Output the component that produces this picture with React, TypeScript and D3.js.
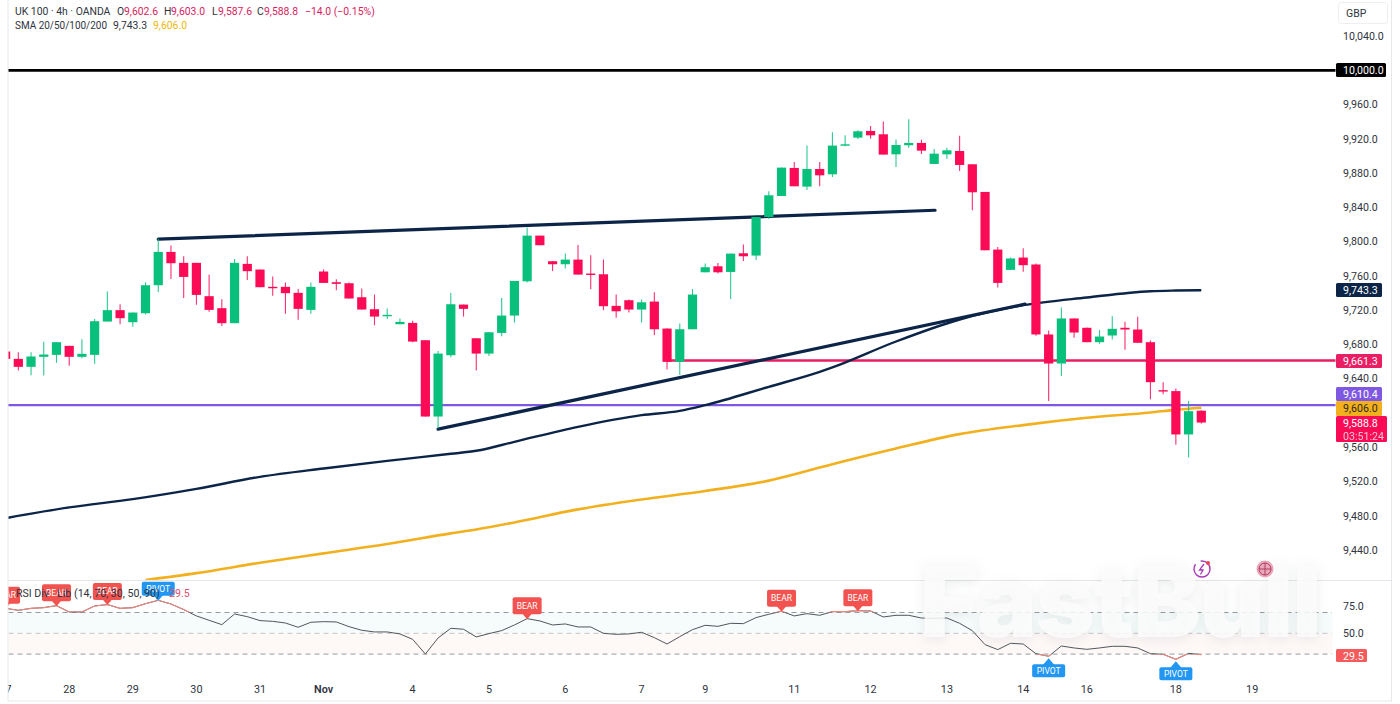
import React from 'react';
import * as d3 from 'd3';

// 4h candles
const opens = [9671.7, 9663.1, 9653.8, 9665.5, 9667.8, 9678.3, 9665.5, 9667.8, 9706.7, 9720.0, 9705.9, 9716.4, 9749.1, 9788.0, 9775.2, 9775.2, 9736.3, 9722.3, 9704.8, 9774.0, 9767.4, 9747.2, 9747.2, 9740.2, 9720.3, 9765.1, 9752.6, 9751.4, 9735.1, 9721.1, 9713.7, 9703.6, 9705.1, 9684.9, 9595.8, 9667.4, 9726.5, 9687.2, 9669.3, 9693.4, 9713.7, 9753.7, 9807.0, 9777.1, 9773.6, 9779.0, 9762.7, 9761.9, 9725.0, 9731.6, 9720.7, 9730.0, 9698.5, 9659.6, 9697.7, 9764.2, 9771.2, 9764.6, 9786.4, 9783.7, 9828.8, 9853.3, 9886.0, 9864.2, 9884.8, 9878.6, 9912.1, 9921.4, 9929.2, 9925.3, 9901.9, 9912.5, 9915.2, 9890.7, 9901.9, 9905.8, 9890.3, 9858.0, 9790.7, 9767.0, 9781.4, 9773.3, 9691.6, 9657.7, 9710.3, 9699.4, 9682.6, 9690.4, 9699.4, 9697.4, 9682.6, 9626.6, 9625.5, 9574.9, 9602.6];
const highs = [9672.5, 9670.9, 9670.9, 9683.0, 9682.6, 9678.3, 9686.1, 9709.8, 9741.7, 9727.0, 9717.2, 9752.6, 9803.6, 9795.4, 9783.0, 9775.2, 9761.2, 9732.8, 9779.8, 9783.0, 9767.4, 9759.2, 9752.2, 9744.8, 9752.2, 9767.4, 9756.1, 9752.2, 9745.2, 9738.2, 9721.8, 9710.2, 9707.5, 9684.9, 9672.4, 9740.1, 9726.5, 9687.2, 9694.2, 9734.3, 9754.1, 9816.4, 9807.0, 9777.5, 9786.0, 9796.1, 9784.1, 9779.0, 9738.2, 9732.3, 9732.3, 9740.9, 9698.9, 9704.3, 9744.8, 9774.4, 9775.1, 9786.0, 9796.5, 9828.8, 9858.8, 9886.4, 9893.0, 9912.1, 9893.0, 9927.6, 9924.1, 9930.0, 9935.0, 9940.1, 9919.1, 9942.8, 9919.1, 9908.2, 9909.7, 9923.7, 9890.3, 9858.0, 9793.8, 9781.4, 9792.3, 9774.4, 9696.2, 9723.1, 9710.3, 9699.8, 9697.0, 9713.0, 9706.4, 9712.2, 9684.6, 9635.9, 9628.6, 9613.8, 9603.0];
const lows = [9662.4, 9649.5, 9644.1, 9643.7, 9658.5, 9655.0, 9663.9, 9657.3, 9706.7, 9703.6, 9700.5, 9714.9, 9740.9, 9756.5, 9734.3, 9726.2, 9718.0, 9701.6, 9704.8, 9755.3, 9746.8, 9736.7, 9715.7, 9708.7, 9715.7, 9751.8, 9743.3, 9733.6, 9720.7, 9702.4, 9709.8, 9703.6, 9682.6, 9595.8, 9581.8, 9665.0, 9712.5, 9649.5, 9666.6, 9689.6, 9705.5, 9752.2, 9795.8, 9765.8, 9768.5, 9761.5, 9744.4, 9719.9, 9711.0, 9717.2, 9705.5, 9690.7, 9650.7, 9644.4, 9697.7, 9764.2, 9762.7, 9733.1, 9777.5, 9778.6, 9826.5, 9853.3, 9864.6, 9860.3, 9864.6, 9875.5, 9911.3, 9919.8, 9920.2, 9901.6, 9887.2, 9909.7, 9902.3, 9890.7, 9896.5, 9882.5, 9836.6, 9789.9, 9746.3, 9767.0, 9764.7, 9690.0, 9613.8, 9643.0, 9687.7, 9682.6, 9680.7, 9685.7, 9673.7, 9681.9, 9616.1, 9621.9, 9562.8, 9548.0, 9587.6];
const closes = [9663.1, 9653.8, 9665.9, 9668.2, 9682.6, 9665.5, 9669.0, 9707.1, 9720.0, 9710.6, 9717.2, 9749.1, 9788.0, 9774.8, 9758.8, 9737.8, 9720.3, 9704.8, 9775.2, 9765.5, 9746.8, 9746.0, 9739.8, 9721.5, 9747.2, 9751.8, 9750.7, 9733.6, 9720.7, 9712.5, 9714.5, 9706.3, 9683.3, 9595.8, 9669.3, 9726.9, 9721.5, 9669.3, 9694.2, 9713.7, 9754.1, 9807.0, 9795.8, 9773.6, 9779.0, 9761.5, 9761.5, 9724.6, 9718.7, 9720.7, 9729.2, 9697.7, 9659.6, 9697.7, 9738.2, 9770.1, 9764.2, 9786.0, 9782.9, 9828.8, 9854.1, 9886.4, 9864.6, 9884.8, 9877.4, 9912.1, 9913.6, 9928.8, 9924.1, 9901.6, 9912.8, 9915.2, 9906.2, 9902.7, 9906.6, 9889.5, 9857.6, 9789.9, 9751.8, 9780.3, 9772.5, 9691.6, 9657.7, 9710.3, 9693.9, 9682.6, 9689.2, 9698.2, 9697.4, 9681.9, 9635.9, 9625.1, 9574.9, 9602.1, 9588.8];

const sma100Bars = [0, 5, 10, 15, 20, 25, 30, 35, 37, 40, 45, 50, 53, 55, 60, 64, 65, 70, 75, 80, 85, 90, 92, 94];
const sma100 = [9477.2, 9489.7, 9499.4, 9511.4, 9525.4, 9535.2, 9544.1, 9552.3, 9555.8, 9566.3, 9583.8, 9597.4, 9602.4, 9609.1, 9630.5, 9647.9, 9653.1, 9683.4, 9709.1, 9725.8, 9734.8, 9742.1, 9742.9, 9743.3];
const sma200Bars = [11, 15, 20, 25, 30, 35, 37, 40, 45, 50, 55, 60, 64, 65, 70, 75, 80, 85, 90, 92, 94];
const sma200 = [9404.9, 9413.0, 9425.1, 9436.1, 9446.9, 9459.4, 9464.0, 9472.2, 9487.4, 9499.0, 9508.9, 9521.0, 9536.2, 9540.2, 9558.6, 9575.3, 9585.8, 9594.3, 9600.6, 9603.6, 9606.0];

const rsi = [74.0, 72.1, 74.0, 74.7, 76.6, 70.5, 70.5, 76.3, 77.6, 74.0, 74.7, 78.5, 81.7, 78.2, 72.8, 66.7, 62.5, 58.3, 68.6, 66.0, 62.2, 61.5, 59.9, 55.8, 60.6, 61.2, 60.9, 56.4, 52.9, 51.3, 51.3, 49.4, 44.2, 30.1, 45.5, 54.8, 53.9, 46.5, 49.7, 52.6, 58.0, 64.1, 61.9, 58.0, 59.0, 56.1, 56.1, 50.0, 49.0, 49.4, 51.0, 45.8, 39.7, 46.8, 53.5, 57.7, 56.7, 59.6, 59.3, 65.1, 68.3, 71.2, 66.7, 68.9, 67.3, 70.8, 70.8, 71.8, 71.5, 65.7, 67.3, 67.3, 64.7, 64.4, 64.7, 59.6, 52.5, 39.1, 34.3, 40.4, 39.7, 30.4, 27.9, 37.8, 35.9, 34.6, 35.9, 37.5, 37.5, 35.9, 30.4, 29.8, 25.0, 30.7, 29.5];
const bearBars = [0, 4, 8, 41, 61, 67];
const pivotTopBars = [12];
const pivotBottomBars = [82, 92];

const priceTicks = [10040, 9960, 9920, 9880, 9840, 9800, 9760, 9720, 9680, 9640, 9560, 9520, 9480, 9440];
const rsiTicks = [75, 50];
const dateBars = [0, 5, 10, 15, 20, 25, 32, 38, 44, 50, 55, 62, 68, 74, 80, 85, 92, 98];
const dateLabels = ['27', '28', '29', '30', '31', 'Nov', '4', '5', '6', '7', '9', '11', '12', '13', '14', '16', '18', '19'];

const upperTrend = [[12, 9802.8], [73.07, 9836.6]];
const lowerTrend = [[34, 9581.1], [80.14, 9727.0]];

const UP = '#08c07c';
const DOWN = '#fb0b55';
const NAVY = '#0b2447';
const GOLD = '#f2b01e';
const PURPLE = '#7e57e2';
const PINK = '#e91e63';
const TEXT = '#2f3440';
const FONT = 'Roboto, sans-serif';

const x = d3.scaleLinear().domain([0, 94]).range([5.6, 1201.3]);
const y = d3.scaleLinear().domain([10000, 9440]).range([70.3, 550]);
const yRsi = d3.scaleLinear().domain([70, 30]).range([612.5, 654.1]);
const fmt = d3.format(',.1f');

function smaPath(bars: number[], vals: number[]) {
    return d3.line<number>()
        .x(d => x(d))
        .y((_, i) => y(vals[i]))
        .curve(d3.curveMonotoneX)(bars);
}

function trendPath(pts: number[][]) {
    return d3.line<number[]>().x(d => x(d[0])).y(d => y(d[1]))(pts);
}

const rsiPath = d3.line<number>().x((_, i) => x(i)).y(d => yRsi(d))(rsi);

const Flag: React.FC<{ bar: number; label: string; color: string; below?: boolean; w: number; h: number }> = ({ bar, label, color, below, w, h }) => {
    const cx = x(bar);
    const tip = yRsi(rsi[bar]) + (below ? 2 : 0.5);
    const dir = below ? 1 : -1;
    const rectY = below ? tip + 6 : tip - 5 - h;
    return (
        <g>
            <path d={`M${cx - 6},${tip + dir * 7} L${cx},${tip} L${cx + 6},${tip + dir * 7} Z`} fill={color} />
            <rect x={cx - w / 2} y={rectY} width={w} height={h} rx={2} fill={color} />
            <text x={cx} y={rectY + h / 2 + 2.9} textAnchor="middle" fontSize={8.5} fill="#fff" fontFamily={FONT}>{label}</text>
        </g>
    );
};

const PriceTag: React.FC<{ top: number; h?: number; w?: number; color: string; lines: string[]; fg?: string }> = ({ top, h = 14, w = 46, color, lines, fg = '#fff' }) => (
    <g>
        <rect x={1336} y={top} width={w} height={h} rx={1.5} fill={color} />
        {lines.map((t, i) => (
            <text key={t} x={1343} y={top + 10.8 + i * 13} fontSize={10.6} fill={fg} fontFamily={FONT} opacity={i ? 0.75 : 1}>{t}</text>
        ))}
    </g>
);

export default function App() {
    return (
        <svg width={1400} height={704} viewBox="0 0 1400 704" style={{ position: 'absolute', left: 0, top: 0, background: '#fff' }}>
            <defs>
                <clipPath id="plot"><rect x={8.5} y={0} width={1327} height={580} /></clipPath>
                <clipPath id="pane"><rect x={8.5} y={581} width={1327} height={100} /></clipPath>
                <clipPath id="axis"><rect x={8.5} y={680} width={1327} height={20} /></clipPath>
                <clipPath id="rsiExtreme">
                    <rect x={0} y={560} width={1340} height={yRsi(70) - 560} />
                    <rect x={0} y={yRsi(30)} width={1340} height={30} />
                </clipPath>
                <filter id="wm" x="-10%" y="-30%" width="120%" height="160%">
                    <feDropShadow dx={0} dy={3} stdDeviation={6} floodColor="#9aa0a6" floodOpacity={0.22} />
                </filter>
            </defs>

            {/* frame */}
            <line x1={8} x2={8} y1={0} y2={701} stroke="#e6e8eb" />
            <line x1={1391.5} x2={1391.5} y1={0} y2={701} stroke="#e6e8eb" />
            <line x1={8} x2={1392} y1={701} y2={701} stroke="#e6e8eb" />
            <line x1={8} x2={1392} y1={580.5} y2={580.5} stroke="#e4e6e9" />

            {/* price pane */}
            <g clipPath="url(#plot)">
                <line x1={8} x2={1336} y1={y(10000)} y2={y(10000)} stroke="#000" strokeWidth={2.8} />
                <line x1={x(52)} x2={1336} y1={y(9661.3)} y2={y(9661.3)} stroke={PINK} strokeWidth={2.4} />
                <line x1={8} x2={1336} y1={y(9609.2)} y2={y(9609.2)} stroke={PURPLE} strokeWidth={2.2} />
                <path d={smaPath(sma200Bars, sma200) || ''} fill="none" stroke={GOLD} strokeWidth={2.6} />
                <path d={smaPath(sma100Bars, sma100) || ''} fill="none" stroke={NAVY} strokeWidth={2.4} />
                <path d={trendPath(upperTrend) || ''} fill="none" stroke={NAVY} strokeWidth={3.2} strokeLinecap="round" />
                <path d={trendPath(lowerTrend) || ''} fill="none" stroke={NAVY} strokeWidth={3.2} strokeLinecap="round" />
                {opens.map((o, i) => {
                    const c = closes[i];
                    const col = c >= o ? UP : DOWN;
                    const top = y(Math.max(o, c));
                    const bot = y(Math.min(o, c));
                    return (
                        <g key={i}>
                            <line x1={x(i)} x2={x(i)} y1={y(highs[i])} y2={y(lows[i])} stroke={col} strokeWidth={1.1} opacity={0.85} />
                            <rect x={x(i) - 4.6} y={top} width={9.2} height={Math.max(bot - top, 1.4)} fill={col} />
                        </g>
                    );
                })}
            </g>

            {/* rsi pane */}
            <g clipPath="url(#pane)">
                <rect x={8.5} y={yRsi(70)} width={1324} height={yRsi(50) - yRsi(70)} fill="#f5fcfb" />
                <rect x={8.5} y={yRsi(50)} width={1324} height={yRsi(30) - yRsi(50)} fill="#fef8f7" />
                {[70, 50, 30].map(v => (
                    <line key={v} x1={8.5} x2={1332} y1={yRsi(v)} y2={yRsi(v)} stroke="#8a8f96" strokeWidth={1} strokeDasharray="5 4" opacity={v === 50 ? 0.5 : 0.9} />
                ))}
                <path d={rsiPath || ''} fill="none" stroke="#50565c" strokeWidth={1} />
                <g clipPath="url(#rsiExtreme)">
                    <path d={rsiPath || ''} fill="none" stroke="#ec8a80" strokeWidth={1.1} />
                </g>
                {bearBars.map(b => <Flag key={b} bar={b} label="BEAR" color="#f25350" w={29} h={17} />)}
                {pivotTopBars.map(b => <Flag key={b} bar={b} label="PIVOT" color="#2196f3" w={33} h={14} />)}
                {pivotBottomBars.map(b => <Flag key={b} bar={b} label="PIVOT" color="#2196f3" below w={33} h={13} />)}
            </g>
            <g fontSize={10.6} fill={TEXT} fontFamily={FONT}>
                <text x={16} y={597}>RSI Div</text>
                <text x={57} y={597}>Lib</text>
                <text x={74} y={597}>(14, 70, 30, 50, 90)</text>
                <text x={169} y={597} fill="#e0506a">29.5</text>
            </g>

            {/* watermark and news icons */}
            <text x={920} y={637} fontSize={101} fontWeight={900} fontFamily='Inter, "Noto Sans", sans-serif' fill="#fbfbfb" fillOpacity={0.85} filter="url(#wm)" textLength={402} lengthAdjust="spacing">FastBull</text>
            <g fill="none">
                <circle cx={1202} cy={569} r={8} stroke="#a73bb5" strokeWidth={1.4} strokeDasharray="30 6" />
                <path d="M1204,564 L1199.5,570 L1203,570 L1200.5,574.5" stroke="#a73bb5" strokeWidth={1.3} />
                <circle cx={1208} cy={563} r={2} fill="#ef4056" />
                <circle cx={1265} cy={569} r={8.5} fill="#e9a8ba" />
                <circle cx={1265} cy={569} r={6} stroke="#b33a62" strokeWidth={1} />
                <path d="M1259,569 H1271 M1265,563 V575" stroke="#b33a62" strokeWidth={1} />
            </g>

            {/* price axis */}
            {priceTicks.map(t => (
                <text key={t} x={1343} y={y(t) + 3.8} fontSize={10.6} fill={TEXT} fontFamily={FONT}>{fmt(t)}</text>
            ))}
            {rsiTicks.map((t, i) => (
                <text key={t} x={1343} y={i === 0 ? 610 : 637} fontSize={10.6} fill={TEXT} fontFamily={FONT}>{fmt(t)}</text>
            ))}
            <rect x={1338.5} y={2.5} width={49} height={21} rx={3} fill="#fff" stroke="#eceef0" />
            <text x={1346} y={17} fontSize={10.5} fill={TEXT} fontFamily={FONT}>GBP</text>

            <PriceTag top={63} w={50} color="#000" lines={['10,000.0']} />
            <PriceTag top={283} color={NAVY} lines={[fmt(sma100[sma100.length - 1])]} />
            <PriceTag top={354} color={PINK} lines={['9,661.3']} />
            <PriceTag top={387} color={PURPLE} lines={['9,610.4']} />
            <PriceTag top={401} h={15} color={GOLD} lines={[fmt(sma200[sma200.length - 1])]} fg="#2f2a1a" />
            <PriceTag top={416} h={26} w={51} color={DOWN} lines={[fmt(closes[closes.length - 1]), '03:51:24']} />
            <rect x={1336} y={649} width={31} height={13} rx={1.5} fill="#f75a5a" />
            <text x={1343} y={659.5} fontSize={10.6} fill="#fff" fontFamily={FONT}>29.5</text>

            {/* time axis */}
            <g clipPath="url(#axis)">
                {dateLabels.map((d, i) => (
                    <text key={d} x={x(dateBars[i])} y={693} textAnchor="middle" fontSize={10.8} fill={TEXT} fontFamily={FONT} fontWeight={d === 'Nov' ? 600 : 400}>{d}</text>
                ))}
            </g>

            {/* header */}
            <g fontSize={10.4} fontFamily={FONT} fill={TEXT}>
                <text x={15} y={14.5}>UK 100 · 4h · OANDA</text>
                <text x={117} y={14.5}>O</text>
                <text x={124} y={14.5} fill="#d81b60">9,602.6</text>
                <text x={164} y={14.5}>H</text>
                <text x={171} y={14.5} fill="#d81b60">9,603.0</text>
                <text x={212} y={14.5}>L</text>
                <text x={218} y={14.5} fill="#d81b60">9,587.6</text>
                <text x={257} y={14.5}>C</text>
                <text x={264} y={14.5} fill="#d81b60">9,588.8</text>
                <text x={305} y={14.5} fill="#d81b60">−14.0 (−0.15%)</text>
                <text x={15} y={29} textLength={92} lengthAdjust="spacingAndGlyphs">SMA 20/50/100/200</text>
                <text x={113} y={29}>9,743.3</text>
                <text x={153} y={29} fill="#efb90b">9,606.0</text>
            </g>
        </svg>
    );
}
